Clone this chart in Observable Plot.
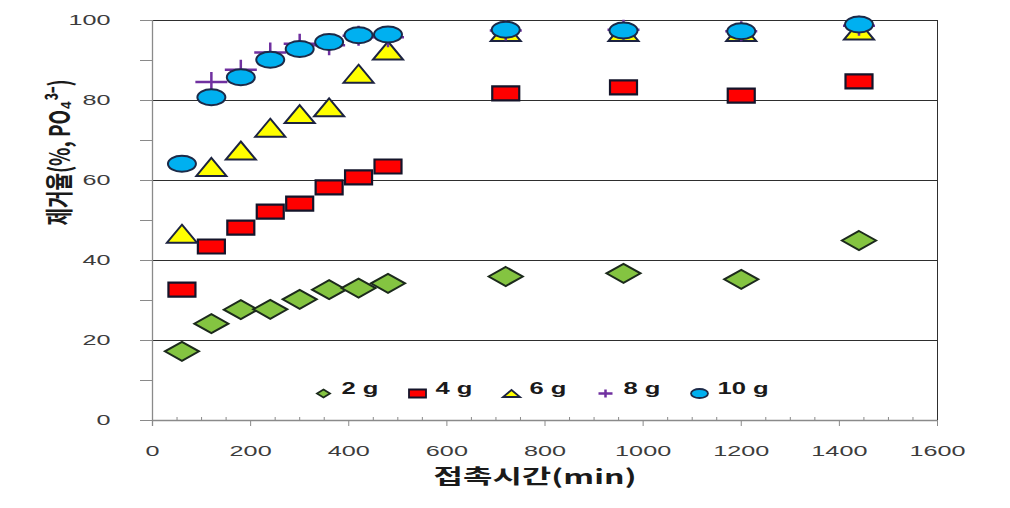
<!DOCTYPE html>
<html><head><meta charset="utf-8">
<script src="https://cdn.jsdelivr.net/npm/d3@7"></script>
<script src="https://cdn.jsdelivr.net/npm/@observablehq/plot@0.6"></script>
<style>
body{margin:0;background:#fff;}
#chart svg{display:block;}
</style>
</head><body><div id="chart"></div>
<script>
// ---- data ----
const times = [60, 120, 180, 240, 300, 360, 420, 480, 720, 960, 1200, 1440];
const g2  = [17.3, 24.2, 27.7, 27.8, 30.3, 32.7, 33.1, 34.3, 36.0, 36.8, 35.3, 45.0];
const g4  = [32.7, 43.5, 48.2, 52.2, 54.2, 58.3, 60.8, 63.5, 81.8, 83.3, 81.2, 84.8];
const g6  = [46.7, 63.4, 67.5, 73.2, 76.6, 78.3, 86.7, 92.5, 97.1, 97.1, 97.1, 97.5];
const g8  = [null, 84.6, 87.7, 92.0, 94.2, 93.8, 96.2, 95.8, 97.5, 97.7, 97.3, 98.7];
const g10 = [64.2, 80.8, 85.8, 90.2, 92.9, 94.6, 96.3, 96.5, 97.7, 97.5, 97.3, 99.0];
const seriesNames = ["2 g", "4 g", "6 g", "8 g", "10 g"];
const xTickValues = [0, 200, 400, 600, 800, 1000, 1200, 1400, 1600];
const xMinorTickValues = [50,100,150,250,300,350,450,500,550,650,700,750,850,900,950,1050,1100,1150,1250,1300,1350,1450,1500,1550];
const yTickValues = [0, 10, 20, 30, 40, 50, 60, 70, 80, 90, 100];
const yLabelValues = [0, 20, 40, 60, 80, 100];
const gridValues = [20, 40, 60, 80, 100];
const xTitle = "접촉시간(min)";
const yTitle = "제거율(%, PO₄³⁻)";

// ---- custom (horizontally stretched) symbols ----
const diamond = (w, h) => ({draw(c) { c.moveTo(0, -h/2); c.lineTo(w/2, 0); c.lineTo(0, h/2); c.lineTo(-w/2, 0); c.closePath(); }});
const rect = (w, h) => ({draw(c) { c.moveTo(-w/2, -h/2); c.lineTo(w/2, -h/2); c.lineTo(w/2, h/2); c.lineTo(-w/2, h/2); c.closePath(); }});
const tri = (w, h) => ({draw(c) { c.moveTo(0, -h/2); c.lineTo(w/2, h/2); c.lineTo(-w/2, h/2); c.closePath(); }});
const plus = (w, h) => ({draw(c) { c.moveTo(-w/2, 0); c.lineTo(w/2, 0); c.moveTo(0, -h/2); c.lineTo(0, h/2); }});
const ell = (w, h) => ({draw(c) {
  const k = 0.5523, a = w/2, b = h/2;
  c.moveTo(a, 0);
  c.bezierCurveTo(a, k*b, k*a, b, 0, b);
  c.bezierCurveTo(-k*a, b, -a, k*b, -a, 0);
  c.bezierCurveTo(-a, -k*b, -k*a, -b, 0, -b);
  c.bezierCurveTo(k*a, -b, a, -k*b, a, 0);
  c.closePath();
}});

const seriesValues = [g2, g4, g6, g8, g10];
const styles = [
  {sym: diamond(34, 19), lsym: diamond(13, 8), fill: "#84c441", stroke: "#1c2a1c", sw: 2},
  {sym: rect(27, 14),    lsym: rect(17, 8),    fill: "#ff0000", stroke: "#14142a", sw: 2.2},
  {sym: tri(30, 18),     lsym: tri(17, 7),     fill: "#ffff00", stroke: "#1c2340", sw: 2},
  {sym: plus(32, 20),    lsym: plus(14, 8),    fill: "none",    stroke: "#7030a0", sw: 2.5},
  {sym: ell(28, 16),     lsym: ell(17, 9),     fill: "#00b0f0", stroke: "#1c2a48", sw: 2}
];

const W = 1010, H = 508, mL = 152, mR = 73, mT = 20, mB = 88;
const plotW = W - mL - mR, plotH = H - mT - mB;
const axisGray = "#8a8a8a", gridDark = "#2e2e2e";

const dataMarks = seriesValues.map((vals, i) =>
  Plot.dot(times.map((t, j) => ({t, v: vals[j]})).filter(d => d.v != null), {
    x: "t", y: "v", symbol: styles[i].sym, fill: styles[i].fill,
    stroke: styles[i].stroke, strokeWidth: styles[i].sw
  })
);

const legendStart = 323 - mL, legendStep = 94, legendDy = -27;
const legendMarks = seriesNames.flatMap((name, i) => [
  Plot.dot([name], {x: null, y: null, frameAnchor: "bottom-left", dx: legendStart + i*legendStep, dy: legendDy,
    symbol: styles[i].lsym, fill: styles[i].fill, stroke: styles[i].stroke, strokeWidth: i === 3 ? 2.5 : 1.8}),
  Plot.text([name], {x: null, y: null, text: d => d, frameAnchor: "bottom-left", dx: legendStart + i*legendStep + 18, dy: legendDy,
    textAnchor: "start", fontSize: 16, fontWeight: "bold", fill: "#1a1a1a", fontFamily: "Liberation Sans, Arial, sans-serif"})
]);

const chart = Plot.plot({
  width: W, height: H,
  marginLeft: mL, marginRight: mR, marginTop: mT, marginBottom: mB,
  style: {fontFamily: "Liberation Sans, Arial, sans-serif", fontSize: "14px", color: "#3c3c3c", background: "#fff", overflow: "visible"},
  x: {domain: [0, 1600], ticks: xTickValues, tickFormat: d => String(d), tickSize: 0, tickPadding: 26, label: null},
  y: {domain: [0, 100], ticks: yLabelValues, tickFormat: d => String(d), tickSize: 0, tickPadding: 42, label: null},
  marks: [
    Plot.ruleY(gridValues, {y: d => d, stroke: gridDark, strokeWidth: 1}),
    Plot.ruleX([1600], {x: d => d, stroke: gridDark, strokeWidth: 1}),
    Plot.ruleX(xTickValues, {x: d => d, insetTop: plotH, insetBottom: -6, stroke: axisGray}),
    Plot.ruleX(xMinorTickValues, {x: d => d, insetTop: plotH - 3, stroke: axisGray}),
    Plot.ruleY(yTickValues, {y: d => d, insetLeft: -12, insetRight: plotW, stroke: axisGray}),
    Plot.ruleY([0], {y: d => d, stroke: axisGray, strokeWidth: 1.3}),
    Plot.ruleX([0], {x: d => d, insetBottom: -6, stroke: axisGray, strokeWidth: 1.3}),
    ...dataMarks,
    ...legendMarks,
    Plot.text([xTitle], {x: null, y: null, text: d => d, frameAnchor: "bottom", dx: -10, dy: 63,
      fontSize: 20, fontWeight: "bold", fill: "#1a1a1a", fontFamily: "Noto Sans CJK KR, sans-serif"}),
    Plot.text([yTitle], {x: null, y: null, text: d => d, frameAnchor: "left", dx: -92, dy: 5, rotate: -90,
      fontSize: 19, fontWeight: "bold", fill: "#1a1a1a", fontFamily: "Noto Sans CJK KR, sans-serif"})
  ]
});

// horizontal stretch of text (the reference picture is widened)
function stretchFor(str) {
  if (str.includes("제거율")) return 1.5;
  if (str.includes("접촉")) return 1.6;
  if (/g$/.test(str)) return 1.6;
  return 1.8;
}
chart.querySelectorAll("text").forEach(el => {
  const s = stretchFor(el.textContent);
  const t = el.getAttribute("transform") || "";
  const m = t.match(/^\s*translate\([^)]*\)/);
  if (m) {
    el.setAttribute("transform", m[0] + ` scale(${s},1)` + t.slice(m[0].length));
  } else {
    const x = +el.getAttribute("x") || 0, y = +el.getAttribute("y") || 0;
    el.setAttribute("x", 0); el.setAttribute("y", 0);
    el.setAttribute("transform", `translate(${x},${y}) scale(${s},1) ${t}`);
  }
});

document.getElementById("chart").appendChild(chart);
</script>
</body></html>
